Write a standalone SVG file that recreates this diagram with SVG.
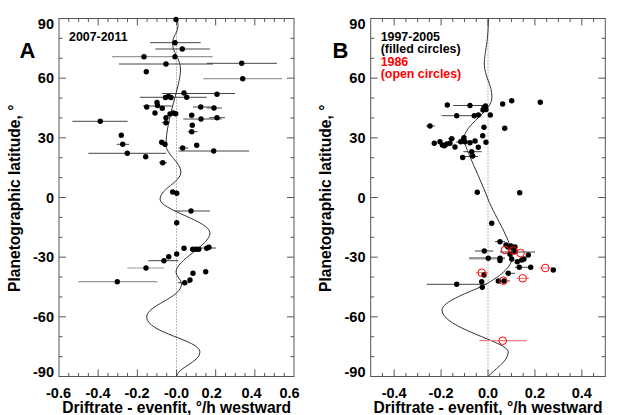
<svg xmlns="http://www.w3.org/2000/svg" width="623" height="415" viewBox="0 0 623 415">
<style>
.ax{fill:none;stroke:#555;stroke-width:1}
.tk{fill:none;stroke:#555;stroke-width:1}
.zero{fill:none;stroke:#777;stroke-width:1;stroke-dasharray:1 2}
.fit{fill:none;stroke:#333;stroke-width:1}
.eb{fill:none;stroke:#444;stroke-width:1}
.ebl{fill:none;stroke:#999;stroke-width:1.2}
.ebt{fill:none;stroke:#999;stroke-width:2.5}
.ebr{fill:none;stroke:#f08080;stroke-width:1.2}
.dot{fill:#000}
.oc{fill:none;stroke:#f00;stroke-width:1}
text{font-family:"Liberation Sans",Arial,sans-serif;font-weight:bold;fill:#000}
.tl{font-size:14.5px}
.ttl{font-size:15.6px}
.big{font-size:22px}
.leg{font-size:12.4px}
.red{fill:#f00}
</style>
<rect width="623" height="415" fill="#fff"/>

<g id="panel-a">
  <g id="a-axes">
    <rect class="ax" x="59" y="18.5" width="235" height="358"/>
    <path class="tk" d="M68.79,376.5v-3.5M78.58,376.5v-3.5M88.37,376.5v-3.5M98.17,376.5v-7M107.96,376.5v-3.5M117.75,376.5v-3.5M127.54,376.5v-3.5M137.33,376.5v-7M147.12,376.5v-3.5M156.92,376.5v-3.5M166.71,376.5v-3.5M176.5,376.5v-7M186.29,376.5v-3.5M196.08,376.5v-3.5M205.87,376.5v-3.5M215.67,376.5v-7M225.46,376.5v-3.5M235.25,376.5v-3.5M245.04,376.5v-3.5M254.83,376.5v-7M264.62,376.5v-3.5M274.42,376.5v-3.5M284.21,376.5v-3.5"/>
    <path class="tk" d="M68.79,18.5v3.5M78.58,18.5v3.5M88.37,18.5v3.5M98.17,18.5v7M107.96,18.5v3.5M117.75,18.5v3.5M127.54,18.5v3.5M137.33,18.5v7M147.12,18.5v3.5M156.92,18.5v3.5M166.71,18.5v3.5M176.5,18.5v7M186.29,18.5v3.5M196.08,18.5v3.5M205.87,18.5v3.5M215.67,18.5v7M225.46,18.5v3.5M235.25,18.5v3.5M245.04,18.5v3.5M254.83,18.5v7M264.62,18.5v3.5M274.42,18.5v3.5M284.21,18.5v3.5"/>
    <path class="tk" d="M59,38.39h3.5M59,58.28h3.5M59,78.17h7M59,98.06h3.5M59,117.94h3.5M59,137.83h7M59,157.72h3.5M59,177.61h3.5M59,197.5h7M59,217.39h3.5M59,237.28h3.5M59,257.17h7M59,277.06h3.5M59,296.94h3.5M59,316.83h7M59,336.72h3.5M59,356.61h3.5"/>
    <path class="tk" d="M294,38.39h-3.5M294,58.28h-3.5M294,78.17h-7M294,98.06h-3.5M294,117.94h-3.5M294,137.83h-7M294,157.72h-3.5M294,177.61h-3.5M294,197.5h-7M294,217.39h-3.5M294,237.28h-3.5M294,257.17h-7M294,277.06h-3.5M294,296.94h-3.5M294,316.83h-7M294,336.72h-3.5M294,356.61h-3.5"/>
    <line class="zero" x1="176.5" y1="18.5" x2="176.5" y2="376.5"/>
  </g>
  <g id="a-labels">
    <g class="tl" text-anchor="end">
      <text x="54" y="28.5">90</text>
      <text x="54" y="83.2">60</text>
      <text x="54" y="142.8">30</text>
      <text x="54" y="202.5">0</text>
      <text x="54" y="262.2">-30</text>
      <text x="54" y="321.8">-60</text>
      <text x="54" y="377">-90</text>
    </g>
    <g class="tl" text-anchor="middle">
      <text x="58.5" y="397.5">-0.6</text>
      <text x="98" y="397.5">-0.4</text>
      <text x="137" y="397.5">-0.2</text>
      <text x="176.5" y="397.5">-0.0</text>
      <text x="211.7" y="397.5">0.2</text>
      <text x="251.5" y="397.5">0.4</text>
      <text x="289.5" y="397.5">0.6</text>
    </g>
    <text class="ttl" x="176.7" y="413.3" text-anchor="middle">Driftrate - evenfit, °/h westward</text>
    <text class="ttl" transform="translate(20,198.3) rotate(-90)" text-anchor="middle">Planetographic latitude, °</text>
    <text class="big" x="19.5" y="58">A</text>
    <text class="leg" x="69" y="41.3">2007-2011</text>
  </g>
  <path id="a-fit" class="fit" d="M176.5,18.5 C177.5,21 178,23 178,26 C178,33 172.5,36 172.5,43 C172.5,53 180.5,58 180.5,70 C180.5,85 166,120 166,145 C166,154 181,163 181,172 C181,182 160,189 160,199 C160,210 210,221 210,233 C210,245 176,260 176,272 C176,277 181.5,279 181.5,284 C181.5,298 146.7,305 146.7,317 C146.7,333 200,340 200,352 C200,362 177,368 176.5,376.5"/>
  <g id="a-errorbars">
    <path class="eb" d="M150,42.7H200.7M155.3,49H210M119,64H213M206.7,63.3H277M162,93.5H235M140,97.3H206.7M143,106H172M193,107H211.7M206.7,108H221.7M183.3,119H221.7M209,117.7H225M72.3,121.3H127.7M162,122.7H170M187.7,131.7H197.7M116.7,144.3H129M178.3,148H188.3M88.3,153.3H166M178.3,151H249M159,162.7H167M175,211H210M190,248H216M148.3,260.7H178.3M178,282.7H190"/>
    <path class="ebl" d="M112,56.7H212.7M203.3,78.7H282M127.3,268H164.3M78.3,281.7H157.3"/>
  </g>
  <g id="a-points" class="dot">
    <circle cx="176" cy="19.5" r="2.7"/><circle cx="175" cy="42.7" r="2.7"/><circle cx="182.3" cy="49" r="2.7"/><circle cx="144" cy="56.7" r="2.7"/><circle cx="175" cy="56.7" r="2.7"/><circle cx="166" cy="64" r="2.7"/><circle cx="241.7" cy="63.3" r="2.7"/><circle cx="146.3" cy="71.7" r="2.7"/><circle cx="242.7" cy="78.7" r="2.7"/><circle cx="184" cy="93" r="2.7"/><circle cx="217" cy="94.3" r="2.7"/><circle cx="165.5" cy="97.5" r="2.7"/><circle cx="168.5" cy="96.5" r="2.7"/><circle cx="171" cy="97.5" r="2.7"/><circle cx="186.7" cy="97.3" r="2.7"/><circle cx="157" cy="102.5" r="2.7"/><circle cx="157.5" cy="105.5" r="2.7"/><circle cx="146.7" cy="107" r="2.7"/><circle cx="162.3" cy="108.3" r="2.7"/><circle cx="200.7" cy="107" r="2.7"/><circle cx="214" cy="108" r="2.7"/><circle cx="155" cy="113" r="2.7"/><circle cx="170" cy="114" r="2.7"/><circle cx="173.3" cy="113" r="2.7"/><circle cx="175.7" cy="113.7" r="2.7"/><circle cx="191.7" cy="115.3" r="2.7"/><circle cx="166" cy="117.7" r="2.7"/><circle cx="201" cy="119" r="2.7"/><circle cx="217" cy="117.7" r="2.7"/><circle cx="100.3" cy="121.3" r="2.7"/><circle cx="166" cy="122.7" r="2.7"/><circle cx="192.3" cy="125.3" r="2.7"/><circle cx="191.7" cy="131.7" r="2.7"/><circle cx="121.3" cy="135.3" r="2.7"/><circle cx="122.7" cy="144.3" r="2.7"/><circle cx="161.7" cy="142.3" r="2.7"/><circle cx="165" cy="144.3" r="2.7"/><circle cx="182.7" cy="148" r="2.7"/><circle cx="196.7" cy="145.3" r="2.7"/><circle cx="127.3" cy="153.3" r="2.7"/><circle cx="213.7" cy="151" r="2.7"/><circle cx="145.7" cy="156.7" r="2.7"/><circle cx="162.7" cy="162.7" r="2.7"/><circle cx="172.7" cy="192" r="2.7"/><circle cx="176.7" cy="193.3" r="2.7"/><circle cx="191" cy="211" r="2.7"/><circle cx="176.7" cy="222.7" r="2.7"/><circle cx="184" cy="248.3" r="2.7"/><circle cx="192.7" cy="249.3" r="2.7"/><circle cx="196" cy="249.3" r="2.7"/><circle cx="198.7" cy="249.3" r="2.7"/><circle cx="206.7" cy="248.3" r="2.7"/><circle cx="209" cy="247.3" r="2.7"/><circle cx="176.7" cy="254" r="2.7"/><circle cx="168.7" cy="256.7" r="2.7"/><circle cx="164" cy="260.7" r="2.7"/><circle cx="146" cy="268" r="2.7"/><circle cx="193" cy="273.3" r="2.7"/><circle cx="205.7" cy="271.7" r="2.7"/><circle cx="190" cy="280" r="2.7"/><circle cx="184.7" cy="282.7" r="2.7"/><circle cx="117.3" cy="281.7" r="2.7"/>
  </g>
</g>

<g id="panel-b">
  <g id="b-axes">
    <rect class="ax" x="370.7" y="18.5" width="234.6" height="358"/>
    <path class="tk" d="M382.43,376.5v-3.5M394.16,376.5v-7M405.89,376.5v-3.5M417.62,376.5v-3.5M429.35,376.5v-3.5M441.08,376.5v-7M452.81,376.5v-3.5M464.54,376.5v-3.5M476.27,376.5v-3.5M488,376.5v-7M499.73,376.5v-3.5M511.46,376.5v-3.5M523.19,376.5v-3.5M534.92,376.5v-7M546.65,376.5v-3.5M558.38,376.5v-3.5M570.11,376.5v-3.5M581.84,376.5v-7M593.57,376.5v-3.5"/>
    <path class="tk" d="M382.43,18.5v3.5M394.16,18.5v7M405.89,18.5v3.5M417.62,18.5v3.5M429.35,18.5v3.5M441.08,18.5v7M452.81,18.5v3.5M464.54,18.5v3.5M476.27,18.5v3.5M488,18.5v7M499.73,18.5v3.5M511.46,18.5v3.5M523.19,18.5v3.5M534.92,18.5v7M546.65,18.5v3.5M558.38,18.5v3.5M570.11,18.5v3.5M581.84,18.5v7M593.57,18.5v3.5"/>
    <path class="tk" d="M370.7,38.39h3.5M370.7,58.28h3.5M370.7,78.17h7M370.7,98.06h3.5M370.7,117.94h3.5M370.7,137.83h7M370.7,157.72h3.5M370.7,177.61h3.5M370.7,197.5h7M370.7,217.39h3.5M370.7,237.28h3.5M370.7,257.17h7M370.7,277.06h3.5M370.7,296.94h3.5M370.7,316.83h7M370.7,336.72h3.5M370.7,356.61h3.5"/>
    <path class="tk" d="M605.3,38.39h-3.5M605.3,58.28h-3.5M605.3,78.17h-7M605.3,98.06h-3.5M605.3,117.94h-3.5M605.3,137.83h-7M605.3,157.72h-3.5M605.3,177.61h-3.5M605.3,197.5h-7M605.3,217.39h-3.5M605.3,237.28h-3.5M605.3,257.17h-7M605.3,277.06h-3.5M605.3,296.94h-3.5M605.3,316.83h-7M605.3,336.72h-3.5M605.3,356.61h-3.5"/>
    <line class="zero" x1="488" y1="18.5" x2="488" y2="376.5"/>
  </g>
  <g id="b-labels">
    <g class="tl" text-anchor="end">
      <text x="365.5" y="28.5">90</text>
      <text x="365.5" y="83.2">60</text>
      <text x="365.5" y="142.8">30</text>
      <text x="365.5" y="202.5">0</text>
      <text x="365.5" y="262.2">-30</text>
      <text x="365.5" y="321.8">-60</text>
      <text x="365.5" y="377">-90</text>
    </g>
    <g class="tl" text-anchor="middle">
      <text x="394.2" y="397.5">-0.4</text>
      <text x="441.1" y="397.5">-0.2</text>
      <text x="488" y="397.5">0.0</text>
      <text x="534.9" y="397.5">0.2</text>
      <text x="581.8" y="397.5">0.4</text>
    </g>
    <text class="ttl" x="488" y="413.3" text-anchor="middle">Driftrate - evenfit, °/h westward</text>
    <text class="ttl" transform="translate(330.5,198.3) rotate(-90)" text-anchor="middle">Planetographic latitude, °</text>
    <text class="big" x="332.5" y="58">B</text>
    <text class="leg" x="380.7" y="40.8">1997-2005</text>
    <text class="leg" x="380.7" y="53.3">(filled circles)</text>
    <text class="leg red" x="380.7" y="65.8">1986</text>
    <text class="leg red" x="380.7" y="78.3">(open circles)</text>
  </g>
  <path id="b-fit" class="fit" d="M488.3,18.5 C488.3,45 484.3,52 484.3,64 C484.3,76 492,85 492,97 C492,112 464,124 464,139 C464,146 477.5,172 488,199 C495.8,219 512,240 512,258 C512,268 495.6,280 478,288 C467,293 442,302 442,310 C442,328 508.3,342 508.3,351.7 C508.3,362 493,370 488.3,376.5"/>
  <g id="b-errorbars">
    <path class="eb" d="M453.3,105.5H486.7M441.7,115.7H481.7M426,126H435M448,138.7H455M456,142H478M463.3,151.7H481.7M460,156.5H478M495,241.7H505M475,251H493.3M500,252H535M515,267.3H530M505,273.3H515M497,281H510M426.7,284.3H486.7"/>
    <path class="ebt" d="M469,258.3H505"/>
    <path class="ebr" d="M479.3,340.7H526.7M476,272.7H488M539,268H552M517,278.3H529"/>
  </g>
  <g id="b-points" class="dot">
    <circle cx="447.3" cy="105" r="2.7"/><circle cx="470" cy="105.5" r="2.7"/><circle cx="484" cy="107.7" r="2.7"/><circle cx="486" cy="109.5" r="2.7"/><circle cx="483" cy="110" r="2.7"/><circle cx="485.5" cy="106" r="2.7"/><circle cx="502.7" cy="104" r="2.7"/><circle cx="511.7" cy="100.7" r="2.7"/><circle cx="540.3" cy="102.3" r="2.7"/><circle cx="456.7" cy="115.7" r="2.7"/><circle cx="474.3" cy="115.7" r="2.7"/><circle cx="478.3" cy="115" r="2.7"/><circle cx="490.3" cy="115" r="2.7"/><circle cx="430" cy="126" r="2.7"/><circle cx="484" cy="127.3" r="2.7"/><circle cx="504.7" cy="128.3" r="2.7"/><circle cx="482.7" cy="135.7" r="2.7"/><circle cx="451.7" cy="138.7" r="2.7"/><circle cx="464" cy="137.7" r="2.7"/><circle cx="434.3" cy="143.3" r="2.7"/><circle cx="440" cy="141.7" r="2.7"/><circle cx="442.3" cy="145" r="2.7"/><circle cx="444.3" cy="145.7" r="2.7"/><circle cx="446.7" cy="144" r="2.7"/><circle cx="450" cy="143.3" r="2.7"/><circle cx="455" cy="147" r="2.7"/><circle cx="460.7" cy="141.7" r="2.7"/><circle cx="463.3" cy="140" r="2.7"/><circle cx="465" cy="141.7" r="2.7"/><circle cx="470" cy="142.7" r="2.7"/><circle cx="475" cy="141" r="2.7"/><circle cx="486" cy="142.3" r="2.7"/><circle cx="478.3" cy="147.3" r="2.7"/><circle cx="471.7" cy="151.7" r="2.7"/><circle cx="472.7" cy="156" r="2.7"/><circle cx="462.7" cy="157.5" r="2.7"/><circle cx="477.3" cy="192.3" r="2.7"/><circle cx="519.7" cy="192.7" r="2.7"/><circle cx="491.7" cy="223.3" r="2.7"/><circle cx="500" cy="241.7" r="2.7"/><circle cx="506" cy="245" r="2.7"/><circle cx="508" cy="247" r="2.7"/><circle cx="511" cy="246" r="2.7"/><circle cx="513" cy="248" r="2.7"/><circle cx="515" cy="247" r="2.7"/><circle cx="484.3" cy="251" r="2.7"/><circle cx="515" cy="251.7" r="2.7"/><circle cx="510" cy="254.3" r="2.7"/><circle cx="528.3" cy="255" r="2.7"/><circle cx="488.3" cy="258.3" r="2.7"/><circle cx="500" cy="258.3" r="2.7"/><circle cx="500" cy="260.5" r="2.7"/><circle cx="511.7" cy="259" r="2.7"/><circle cx="517.3" cy="261.7" r="2.7"/><circle cx="521.7" cy="260" r="2.7"/><circle cx="524" cy="259" r="2.7"/><circle cx="519.3" cy="267.3" r="2.7"/><circle cx="530.7" cy="267.3" r="2.7"/><circle cx="553.3" cy="270" r="2.7"/><circle cx="484" cy="275" r="2.7"/><circle cx="508.3" cy="273.3" r="2.7"/><circle cx="498.3" cy="281" r="2.7"/><circle cx="504" cy="281" r="2.7"/><circle cx="456.7" cy="284.3" r="2.7"/><circle cx="481.7" cy="281.7" r="2.7"/><circle cx="482.3" cy="287.3" r="2.7"/>
  </g>
  <g id="b-open-points" class="oc">
    <circle cx="505" cy="250" r="3.8"/><circle cx="513.3" cy="250.5" r="3.8"/><circle cx="520.5" cy="253" r="3.8"/><circle cx="545.3" cy="268" r="3.8"/><circle cx="481.7" cy="272.7" r="3.8"/><circle cx="522.7" cy="278.3" r="3.8"/><circle cx="503.3" cy="280.7" r="3.8"/><circle cx="502.7" cy="340.7" r="3.8"/>
  </g>
</g>
</svg>
